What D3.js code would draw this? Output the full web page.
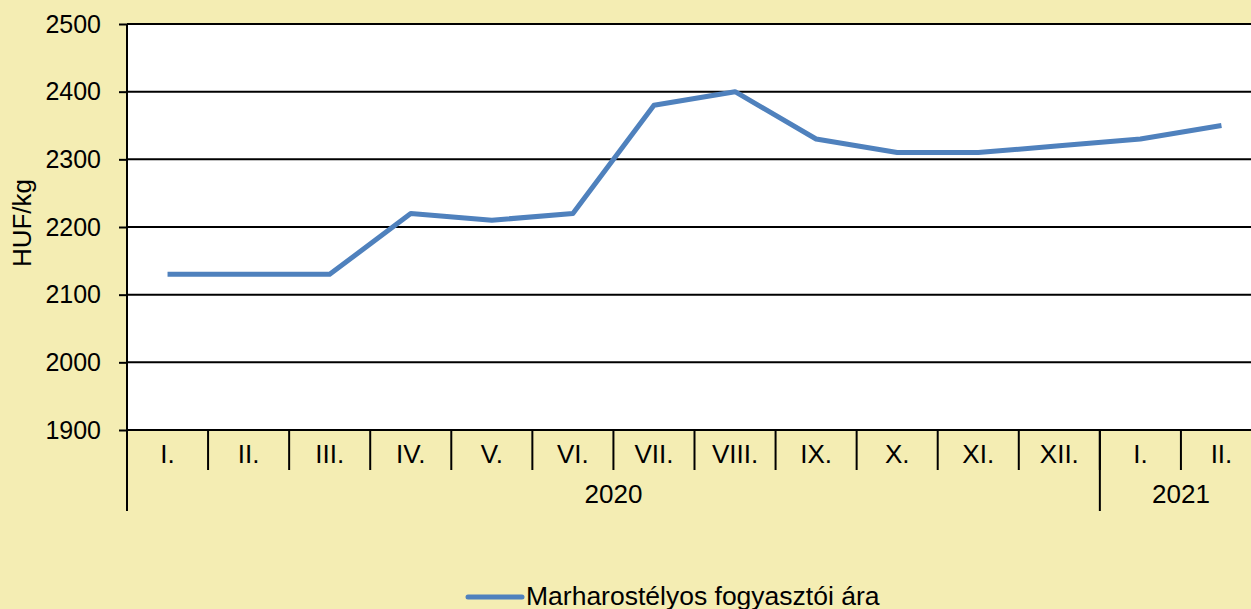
<!DOCTYPE html>
<html>
<head>
<meta charset="utf-8">
<script src="https://cdn.jsdelivr.net/npm/d3@7"></script>
<style>
  html, body { margin: 0; padding: 0; overflow: hidden; background: #f4edb3; }
  svg { display: block; font-family: "Liberation Sans", Arial, sans-serif; }
</style>
</head>
<body>
<div id="chart"></div>
<script>
// data
const months = ["I.", "II.", "III.", "IV.", "V.", "VI.", "VII.", "VIII.", "IX.", "X.", "XI.", "XII.", "I.", "II."];
const years = [{label: "2020", from: 0, to: 12}, {label: "2021", from: 12, to: 14}];
const prices = [2130, 2130, 2130, 2220, 2210, 2220, 2380, 2400, 2330, 2310, 2310, 2320, 2330, 2350];
const yTicks = [1900, 2000, 2100, 2200, 2300, 2400, 2500];
const seriesName = "Marharostélyos fogyasztói ára";

const W = 1251, H = 609;
const margin = {top: 24, left: 127};
const plotW = 1135, plotH = 406;

const svg = d3.select("#chart").append("svg")
  .attr("width", W).attr("height", H);

const g = svg.append("g")
  .attr("transform", "translate(" + margin.left + "," + margin.top + ")");

const idx = d3.range(months.length);
const x = d3.scaleBand().domain(idx).range([0, plotW]).padding(0);
const y = d3.scaleLinear().domain([1900, 2500]).range([plotH, 0]);

// plot area
g.append("rect").attr("width", plotW).attr("height", plotH).attr("fill", "#fff");

// gridlines
g.selectAll(".grid").data(yTicks).join("line")
  .attr("x1", 0).attr("x2", plotW)
  .attr("y1", d => y(d)).attr("y2", d => y(d))
  .attr("stroke", "#000").attr("stroke-width", 2);

// y axis
const yAxis = g.append("g")
  .call(d3.axisLeft(y).tickValues(yTicks).tickSize(8).tickPadding(18).tickFormat(d3.format("d")));
yAxis.select(".domain").attr("stroke-width", 2).attr("d", "M0," + plotH + "V0");
yAxis.selectAll(".tick line").attr("stroke-width", 2);
yAxis.selectAll("text").attr("font-size", 25).attr("fill", "#000");

// y title
svg.append("text")
  .attr("transform", "translate(31," + (margin.top + 199) + ") rotate(-90)")
  .attr("text-anchor", "middle")
  .attr("font-size", 26)
  .text("HUF/kg");

// x axis: month ticks
const xg = g.append("g").attr("transform", "translate(0," + plotH + ")");
xg.selectAll(".mtick").data(d3.range(months.length + 1)).join("line")
  .attr("x1", d => d * x.bandwidth()).attr("x2", d => d * x.bandwidth())
  .attr("y1", 0).attr("y2", 40)
  .attr("stroke", "#000").attr("stroke-width", 2);
xg.selectAll(".mlabel").data(idx).join("text")
  .attr("x", d => x(d) + x.bandwidth() / 2)
  .attr("y", 33)
  .attr("text-anchor", "middle")
  .attr("font-size", 26)
  .text(d => months[d]);

// year separators and labels
const yearEdges = [0, 12];
xg.selectAll(".ytick").data(yearEdges).join("line")
  .attr("x1", d => x(d)).attr("x2", d => x(d))
  .attr("y1", 0).attr("y2", 81)
  .attr("stroke", "#000").attr("stroke-width", 2);
xg.selectAll(".ylabel").data(years).join("text")
  .attr("x", d => (x(d.from) + (d.to < months.length ? x(d.to) : plotW)) / 2)
  .attr("y", 73)
  .attr("text-anchor", "middle")
  .attr("font-size", 26)
  .text(d => d.label);

// x axis line
xg.append("line").attr("x1", 0).attr("x2", plotW)
  .attr("stroke", "#000").attr("stroke-width", 2);

// series line
const line = d3.line()
  .x((d, i) => x(i) + x.bandwidth() / 2)
  .y(d => y(d));
g.append("path").datum(prices)
  .attr("fill", "none")
  .attr("stroke", "#4f81bd")
  .attr("stroke-width", 5)
  .attr("stroke-linejoin", "round")
  .attr("d", line);

// legend
const lg = svg.append("g").attr("transform", "translate(468,597)");
lg.append("line").attr("x1", 0).attr("x2", 54)
  .attr("stroke", "#4f81bd").attr("stroke-width", 5).attr("stroke-linecap", "round");
lg.append("text").attr("x", 58).attr("y", 8)
  .attr("font-size", 26.5).text(seriesName);
</script>
</body>
</html>
